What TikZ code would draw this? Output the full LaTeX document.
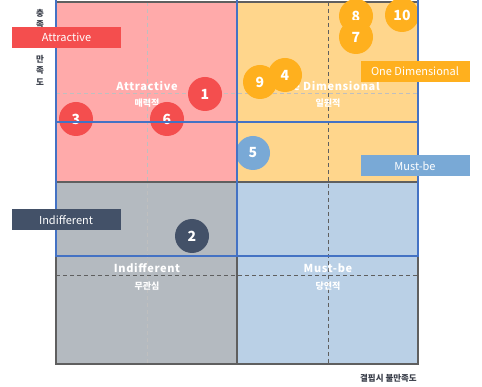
\documentclass[tikz,border=0pt]{standalone}
\usepackage{fontspec}
\setmainfont{Noto Sans CJK KR}
\definecolor{pinkq}{HTML}{FFAAAA}
\definecolor{orangeq}{HTML}{FFD68C}
\definecolor{grayq}{HTML}{B4BAC0}
\definecolor{blueq}{HTML}{BAD0E6}
\definecolor{redc}{HTML}{F44E4E}
\definecolor{orangec}{HTML}{FFB01E}
\definecolor{bluec}{HTML}{79A9D6}
\definecolor{darkc}{HTML}{435168}
\definecolor{blin}{HTML}{4472C4}
\definecolor{bord}{HTML}{5F5F5F}
\definecolor{axtext}{HTML}{3A3F4A}
\begin{document}
\begin{tikzpicture}[x=1pt,y=-1pt,
  circ/.style={circle, minimum size=34pt, inner sep=0pt, text=white, font=\bfseries\fontsize{14}{14}\selectfont},
  tagbox/.style={rectangle, minimum width=109pt, minimum height=21pt, inner sep=0pt, text=white, font=\fontsize{11}{12}\selectfont},
  qtitle/.style={text=white, inner sep=0pt, font=\bfseries\fontsize{11}{12}\selectfont\addfontfeature{LetterSpace=6}},
  qsub/.style={text=white, inner sep=0pt, font=\bfseries\fontsize{9}{10}\selectfont},
  axlabel/.style={text=axtext, inner sep=0pt, font=\bfseries\fontsize{8.5}{9}\selectfont},
  lightdash/.style={draw=black!25, line width=0.7pt, dash pattern=on 4pt off 3pt},
  darkdash/.style={draw=bord, line width=0.8pt, dash pattern=on 4pt off 3pt},
  border/.style={draw=bord, line width=2pt},
  blueline/.style={draw=blin, line width=1.8pt}]
\useasboundingbox (0,0) rectangle (482,387);
% quadrant fills
\fill[pinkq] (56,2) rectangle (237,182);
\fill[orangeq] (237,2) rectangle (418,182);
\fill[grayq] (56,182) rectangle (237,364);
\fill[blueq] (237,182) rectangle (418,364);
% dashed guides
\draw[lightdash] (147,2) -- (147,364);
\draw[darkdash] (328,2) -- (328,364);
\draw[lightdash] (56,93) -- (418,93);
\draw[darkdash] (56,275) -- (418,275);
% borders
\draw[border] (56,2) rectangle (418,364);
\draw[border] (237,2) -- (237,364);
\draw[border] (56,182) -- (418,182);
% quadrant labels
\node[qtitle] (qa) at (147,86) {Attractive};
\node[qsub] (qas) at (147,103) {매력적};
\node[qtitle] (qo) at (328,86) {One Dimensional};
\node[qsub] (qos) at (328,103) {일원적};
\node[qtitle] (qi) at (147,268) {Indifferent};
\node[qsub] (qis) at (147,286) {무관심};
\node[qtitle] (qm) at (328,268) {Must-be};
\node[qsub] (qms) at (328,286) {당연적};
% circles
\node[circ, fill=redc] (c1) at (205,94) {1};
\node[circ, fill=redc] (c3) at (76,119) {3};
\node[circ, fill=redc] (c6) at (167,119) {6};
\node[circ, fill=orangec] (c8) at (356,16) {8};
\node[circ, fill=orangec] (c10) at (402,15) {10};
\node[circ, fill=orangec] (c7) at (356,37) {7};
\node[circ, fill=orangec] (c9) at (260,82) {9};
\node[circ, fill=orangec] (c4) at (285,75) {4};
\node[circ, fill=bluec] (c5) at (253,153) {5};
\node[circ, fill=darkc] (c2) at (192,236) {2};
% blue overlay lines
\draw[blueline] (56,0) -- (56,256) -- (418,256) -- (418,0);
\draw[blueline] (237,0) -- (237,256);
\draw[blueline] (56,122) -- (418,122);
% axis labels
\node[axlabel, align=center, font=\bfseries\fontsize{8.5}{11.5}\selectfont, anchor=north] (yax) at (40,9) {충\\족\\시\\~\\만\\족\\도};
\node[axlabel, anchor=east] (xax) at (417,378) {결핍시 불만족도};
% side tags
\node[tagbox, fill=redc] (ta) at (66.5,37.5) {Attractive};
\node[tagbox, fill=darkc] (ti) at (66,220) {Indifferent};
\node[tagbox, fill=orangec] (to) at (415,71.5) {One Dimensional};
\node[tagbox, fill=bluec] (tm) at (415,166) {Must-be};
\end{tikzpicture}
\end{document}
